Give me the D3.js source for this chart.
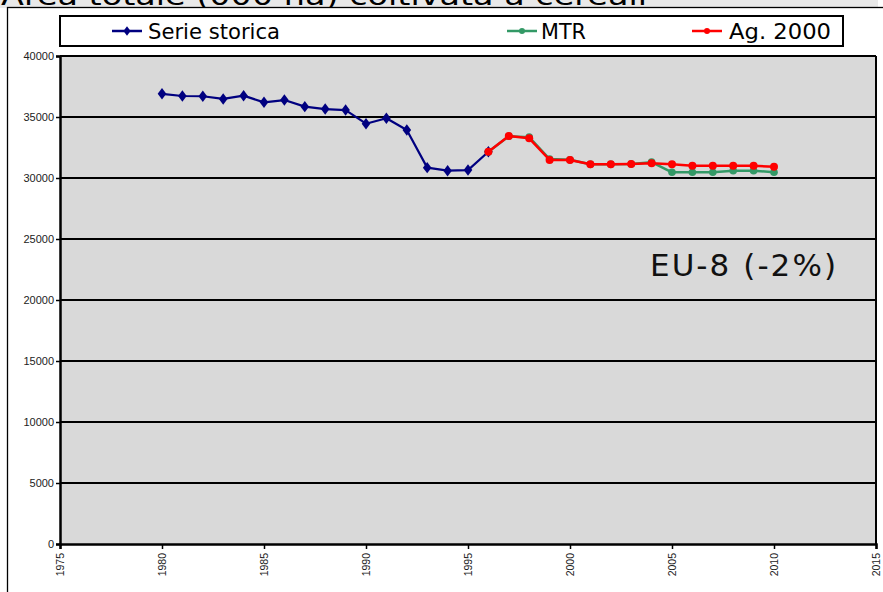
<!DOCTYPE html>
<html>
<head>
<meta charset="utf-8">
<script src="https://cdn.jsdelivr.net/npm/d3@7"></script>
<style>
  html, body { margin: 0; padding: 0; background: #fff; }
  svg { display: block; }
</style>
</head>
<body>
<svg id="chart" width="883" height="592"></svg>
<script>
// ---- data ----
const histYears = [1980,1981,1982,1983,1984,1985,1986,1987,1988,1989,1990,1991,1992,1993,1994,1995,1996];
const histValues = [36900,36720,36700,36480,36750,36200,36390,35850,35650,35570,34450,34900,33930,30850,30600,30650,32150];
const projYears = [1996,1997,1998,1999,2000,2001,2002,2003,2004,2005,2006,2007,2008,2009,2010];
const mtrValues = [32150,33420,33350,31550,31500,31120,31120,31150,31300,30470,30470,30470,30600,30600,30470];
const agValues  = [32150,33440,33250,31480,31480,31120,31120,31150,31200,31120,31010,31000,31000,31000,30930];
const xTicks = [1975,1980,1985,1990,1995,2000,2005,2010,2015];
const yTicks = [0,5000,10000,15000,20000,25000,30000,35000,40000];
const seriesNames = ["Serie storica","MTR","Ag. 2000"];
const colors = {hist:"#000080", mtr:"#339966", ag:"#ff0000"};
const titleText = "Area totale (000 ha) coltivata a cereali";
const noteText = "EU-8 (-2%)";

const svg = d3.select("#chart");

// title strip
svg.append("rect").attr("x",0).attr("y",0).attr("width",878).attr("height",8).attr("fill","#e9e9e9");
svg.append("text").attr("x",1).attr("y",5)
  .attr("font-family","DejaVu Sans, Verdana, sans-serif").attr("font-size",26)
  .attr("textLength",646).attr("lengthAdjust","spacingAndGlyphs")
  .attr("fill","#000").text(titleText);

// outer chart border
svg.append("rect").attr("x",7.5).attr("y",7.5).attr("width",900).attr("height",600)
  .attr("fill","#fff").attr("stroke","#000").attr("stroke-width",1.3);

const L = 60, R = 876, T = 56, B = 544;
const x = d3.scaleLinear().domain([1975,2015]).range([L,R]);
const y = d3.scaleLinear().domain([0,40000]).range([B,T]);

// plot area
svg.append("rect").attr("x",L).attr("y",T).attr("width",R-L).attr("height",B-T)
  .attr("fill","#d9d9d9");

// gridlines
svg.append("g").selectAll("line").data(yTicks.filter(d=>d>0)).join("line")
  .attr("x1",L).attr("x2",R).attr("y1",d=>y(d)).attr("y2",d=>y(d))
  .attr("stroke","#000").attr("stroke-width",2);

// plot border right
svg.append("line").attr("x1",R).attr("x2",R).attr("y1",T).attr("y2",B)
  .attr("stroke","#000").attr("stroke-width",2);

// axes
const yAxis = d3.axisLeft(y).tickValues(yTicks).tickSize(4).tickPadding(2).tickFormat(d3.format("d"));
const gy = svg.append("g").attr("transform",`translate(${L},0)`).call(yAxis);
gy.select(".domain").attr("stroke","#000").attr("stroke-width",2.5);
gy.selectAll(".tick line").attr("stroke","#000").attr("stroke-width",1.5);
gy.selectAll(".tick text").attr("font-family","Liberation Sans, Arial, sans-serif")
  .attr("font-size",11).attr("fill","#222");

const xAxis = d3.axisBottom(x).tickValues(xTicks).tickSize(5).tickFormat(d3.format("d"));
const gx = svg.append("g").attr("transform",`translate(0,${B})`).call(xAxis);
gx.select(".domain").attr("stroke","#000").attr("stroke-width",2.5);
gx.selectAll(".tick line").attr("stroke","#000").attr("stroke-width",1.5);
gx.selectAll(".tick text")
  .attr("font-family","Liberation Sans, Arial, sans-serif").attr("font-size",10.5)
  .attr("fill","#222")
  .attr("transform","rotate(-90)")
  .attr("x",-9).attr("y",0).attr("dy","0.35em")
  .attr("text-anchor","end");

// lines
const line = d3.line().x(d=>x(d[0])).y(d=>y(d[1]));
const histData = histYears.map((yr,i)=>[yr,histValues[i]]);
const mtrData = projYears.map((yr,i)=>[yr,mtrValues[i]]);
const agData = projYears.map((yr,i)=>[yr,agValues[i]]);

function drawSeries(data, color, marker, w){
  svg.append("path").datum(data).attr("d",line).attr("fill","none")
    .attr("stroke",color).attr("stroke-width",w).attr("stroke-linejoin","round");
  const g = svg.append("g");
  if(marker==="diamond"){
    g.selectAll("path").data(data).join("path")
      .attr("d",d3.symbol().type(d3.symbolDiamond).size(38))
      .attr("transform",d=>`translate(${x(d[0])},${y(d[1])}) scale(1.3,1)`)
      .attr("fill",color);
  } else {
    g.selectAll("circle").data(data).join("circle")
      .attr("cx",d=>x(d[0])).attr("cy",d=>y(d[1])).attr("r",marker)
      .attr("fill",color);
  }
}
drawSeries(histData, colors.hist, "diamond", 2.2);
drawSeries(mtrData, colors.mtr, 3.8, 2.5);
drawSeries(agData, colors.ag, 4, 2.5);

// note text
svg.append("text").attr("x",650).attr("y",276)
  .attr("font-family","DejaVu Sans, Verdana, sans-serif").attr("font-size",31)
  .attr("textLength",186).attr("lengthAdjust","spacing")
  .attr("fill","#111").text(noteText);

// legend
const lg = svg.append("g");
lg.append("rect").attr("x",60).attr("y",16).attr("width",783).attr("height",30)
  .attr("fill","#fff").attr("stroke","#000").attr("stroke-width",2);
const legendItems = [
  {name:seriesNames[0], color:colors.hist, x1:112, x2:142, tx:148, tl:132, m:"diamond"},
  {name:seriesNames[1], color:colors.mtr, x1:507, x2:537, tx:541, tl:45, m:"circle"},
  {name:seriesNames[2], color:colors.ag, x1:692, x2:722, tx:729, tl:102, m:"circle"}
];
legendItems.forEach(it=>{
  lg.append("line").attr("x1",it.x1).attr("x2",it.x2).attr("y1",31).attr("y2",31)
    .attr("stroke",it.color).attr("stroke-width",2.5);
  if(it.m==="diamond"){
    lg.append("path").attr("d",d3.symbol().type(d3.symbolDiamond).size(26))
      .attr("transform",`translate(${(it.x1+it.x2)/2},31) scale(1.3,1)`).attr("fill",it.color);
  } else {
    lg.append("circle").attr("cx",(it.x1+it.x2)/2).attr("cy",31).attr("r",3).attr("fill",it.color);
  }
  lg.append("text").attr("x",it.tx).attr("y",38.5)
    .attr("font-family","DejaVu Sans, Verdana, sans-serif").attr("font-size",21)
    .attr("textLength",it.tl).attr("lengthAdjust","spacingAndGlyphs")
    .attr("fill","#000").text(it.name);
});
</script>
</body>
</html>
